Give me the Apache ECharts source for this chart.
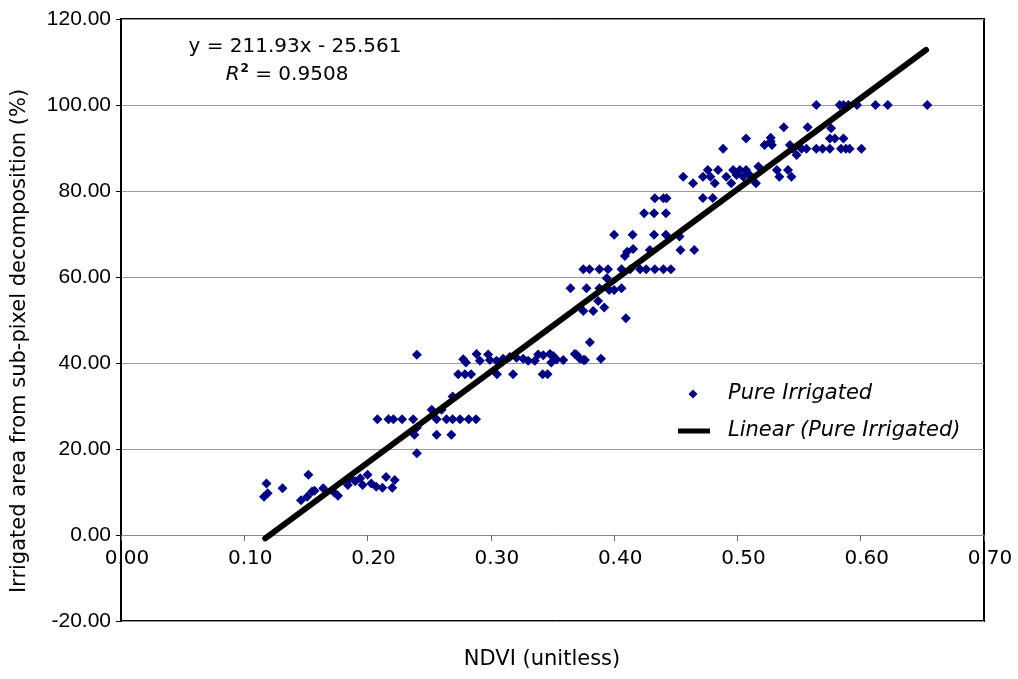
<!DOCTYPE html>
<html>
<head>
<meta charset="utf-8">
<script src="https://cdn.jsdelivr.net/npm/echarts@6/dist/echarts.min.js"></script>
<style>
html,body{margin:0;padding:0;background:#fff;}
#chart{width:1018px;height:679px;}
</style>
</head>
<body>
<div id="chart"></div>
<script>
// ---- Data ----
const xTicks = [0.0, 0.1, 0.2, 0.3, 0.4, 0.5, 0.6, 0.7];
const yTicks = [-20, 0, 20, 40, 60, 80, 100, 120];

// NDVI (unitless), irrigated area (%)
const pureIrrigatedLow = [
  [0.118,12.0],[0.119,9.7],[0.116,8.9],[0.131,10.9],[0.152,14.0],[0.146,8.1],[0.151,8.9],
  [0.155,10.1],[0.157,10.3],[0.164,10.9],[0.173,9.9],[0.176,9.1],[0.184,11.6],[0.186,13.2],
  [0.194,13.2],[0.196,11.6],[0.190,12.5],[0.200,14.0],[0.203,12.0],[0.207,11.2],[0.212,11.0],
  [0.215,13.5],[0.220,11.0],[0.222,12.8]
];
const pureIrrigatedMid = [
  [0.208,26.9],[0.217,26.9],[0.221,26.9],[0.228,26.9],[0.237,26.9],[0.256,26.9],[0.264,26.9],
  [0.269,26.9],[0.275,26.9],[0.282,26.9],[0.288,26.9],
  [0.238,23.3],[0.256,23.3],[0.268,23.3],[0.240,25.0],[0.240,19.0],
  [0.252,29.1],[0.260,29.1],[0.269,32.2],
  [0.2735,37.4],[0.279,37.4],[0.284,37.4],[0.305,37.4],[0.318,37.4],[0.342,37.4],[0.346,37.4],
  [0.240,41.9],
  [0.2776,40.9],[0.2798,40.1],[0.2884,42.1],[0.2911,40.5],[0.2978,42.0],[0.2992,40.7],[0.3046,40.5],
  [0.310,41.0],[0.3154,41.4],[0.3208,41.2],[0.3262,41.0],[0.3303,40.5],[0.3357,40.5],[0.3384,42.0],
  [0.3425,41.8],[0.3479,42.1],[0.3506,41.6],[0.3533,40.8],[0.3587,40.7],[0.349,40.1],[0.3681,42.1],
  [0.3722,41.0],[0.3763,40.7],[0.3803,44.8],[0.3893,41.0],[0.375,40.7],[0.3695,41.9]
];
const pureIrrigatedHigh = [
  [0.4095,50.4],[0.375,52.1],[0.383,52.1],[0.387,54.4],[0.392,52.9],[0.3646,57.4],[0.3776,57.4],
  [0.388,57.4],[0.396,57.0],[0.400,57.0],[0.406,57.4],[0.394,59.7],
  [0.375,61.8],[0.380,61.8],[0.388,61.8],[0.395,61.8],[0.406,61.8],[0.413,61.8],[0.421,61.8],
  [0.426,61.8],[0.433,61.8],[0.440,61.8],[0.446,61.8],
  [0.4087,64.9],[0.4106,65.9],[0.4154,66.5],[0.429,66.3],[0.4538,66.3],[0.465,66.3],
  [0.400,69.8],[0.415,69.8],[0.4324,69.8],[0.442,69.8],[0.453,69.4],
  [0.4243,74.8],[0.4324,74.8],[0.442,74.8],
  [0.433,78.3],[0.440,78.3],[0.4425,78.3],[0.472,78.4],[0.480,78.4],
  [0.456,83.3],[0.464,81.8],[0.472,83.3],[0.476,84.9],[0.478,83.3],[0.4816,81.8],[0.4843,84.9],
  [0.491,83.3],[0.495,81.8],[0.4965,84.9],[0.4993,83.7],[0.502,84.9],[0.5047,83.3],[0.507,84.9],
  [0.510,83.7],[0.515,81.8],[0.517,85.7],[0.532,84.9],[0.534,83.3],[0.541,84.9],[0.5438,83.3],
  [0.4884,89.8],[0.507,92.2],[0.527,92.4],[0.527,91.5],[0.522,90.7],[0.528,90.7],[0.5376,94.8],
  [0.557,94.8],[0.576,94.6],[0.575,92.2],[0.579,92.2],[0.586,92.2],[0.5426,90.7],[0.548,88.4],
  [0.545,89.8],[0.552,89.8],[0.556,89.8],[0.564,89.8],[0.569,89.8],[0.575,89.8],[0.584,89.8],
  [0.588,89.8],[0.591,89.8],[0.6006,89.8],
  [0.564,100],[0.583,100],[0.586,100],[0.590,100],[0.597,100],[0.612,100],[0.622,100],[0.654,100]
];
const pureIrrigated = pureIrrigatedLow.concat(pureIrrigatedMid, pureIrrigatedHigh);

// Trend line end points as drawn in the reference
const trendLine = [[0.117, -0.8], [0.653, 112.8]];

const equationText = 'y = 211.93x - 25.561';
const r2Value = '0.9508';
const xTitle = 'NDVI (unitless)';
const yTitle = 'Irrigated area from sub-pixel decomposition (%)';
const scatterName = 'Pure Irrigated';
const lineName = 'Linear (Pure Irrigated)';

const NUMFONT = '"Liberation Sans", Arial, sans-serif';
const TXTFONT = '"DejaVu Sans", sans-serif';

// legend icons: drawn 1:1 (keepAspect) inside a 45px wide box
const diamondIcon = 'path://M0,4.5L0,4.5ZM15,0L19.5,4.5L15,9L10.5,4.5ZM45,4.5L45,4.5Z';
const lineIcon = 'path://M0,0L32,0L32,5L0,5ZM45,2.5L45,2.5Z';

const chart = echarts.init(document.getElementById('chart'), null, {renderer: 'canvas'});
chart.setOption({
  animation: false,
  backgroundColor: '#fff',
  grid: {
    left: 121, top: 19, right: 34, bottom: 58,
    show: true, borderColor: '#000', borderWidth: 2, backgroundColor: 'transparent'
  },
  xAxis: {
    type: 'value',
    position: 'bottom',
    offset: -86,
    min: xTicks[0], max: xTicks[xTicks.length - 1], interval: 0.1,
    axisLine: {show: true, onZero: false, lineStyle: {color: '#8c8c8c', width: 1}},
    axisTick: {show: true, length: 6, lineStyle: {color: '#666'}},
    axisLabel: {
      color: '#000', fontFamily: TXTFONT, fontSize: 20, margin: 14,
      padding: [0, 0, 0, 12],
      formatter: v => v.toFixed(2)
    },
    splitLine: {show: false}
  },
  yAxis: {
    type: 'value',
    min: yTicks[0], max: yTicks[yTicks.length - 1], interval: 20,
    axisLine: {show: true, onZero: false, lineStyle: {color: '#000', width: 2}},
    axisTick: {show: true, length: 5, lineStyle: {color: '#000', width: 1}},
    axisLabel: {
      color: '#000', fontFamily: NUMFONT, fontSize: 21, margin: 10,
      formatter: v => v.toFixed(2)
    },
    splitLine: {show: true, lineStyle: {color: '#9a9a9a', width: 1}}
  },
  legend: [
    {
      data: [{name: scatterName, icon: diamondIcon}],
      orient: 'vertical', left: 673, top: 377,
      itemWidth: 45, itemHeight: 9, selectedMode: false,
      textStyle: {fontFamily: TXTFONT, fontSize: 21, fontStyle: 'italic', color: '#000', lineHeight: 24}
    },
    {
      data: [{name: lineName, icon: lineIcon, itemStyle: {color: '#000'}}],
      orient: 'vertical', left: 673, top: 414,
      itemWidth: 45, itemHeight: 14, selectedMode: false,
      textStyle: {fontFamily: TXTFONT, fontSize: 21, fontStyle: 'italic', color: '#000', lineHeight: 24}
    }
  ],
  series: [
    {
      name: scatterName,
      type: 'scatter',
      data: pureIrrigated,
      symbol: 'diamond',
      symbolSize: 10,
      itemStyle: {color: '#000080', opacity: 1},
      z: 3
    },
    {
      name: lineName,
      type: 'line',
      data: trendLine,
      symbol: 'none',
      lineStyle: {color: '#000', width: 6, cap: 'round'},
      itemStyle: {color: '#000'},
      z: 4
    }
  ],
  graphic: [
    {
      type: 'text', x: 295, y: 47,
      style: {text: equationText, font: '20px ' + TXTFONT, fill: '#000',
              align: 'center', verticalAlign: 'middle'}
    },
    {
      type: 'text', x: 287, y: 75,
      style: {
        text: '{i|R}{s|2}{n| = ' + r2Value + '}',
        align: 'center', verticalAlign: 'middle',
        rich: {
          i: {font: 'italic 20px ' + TXTFONT, fill: '#000'},
          s: {font: 'bold 12px ' + TXTFONT, fill: '#000', padding: [0, 0, 12, 1]},
          n: {font: '20px ' + TXTFONT, fill: '#000'}
        }
      }
    },
    {
      type: 'text', x: 20, y: 341, rotation: Math.PI / 2,
      style: {text: yTitle, font: '21px ' + TXTFONT, fill: '#000',
              align: 'center', verticalAlign: 'middle'}
    },
    {
      type: 'text', x: 542, y: 660,
      style: {text: xTitle, font: '21px ' + TXTFONT, fill: '#000',
              align: 'center', verticalAlign: 'middle'}
    }
  ]
});
</script>
</body>
</html>
